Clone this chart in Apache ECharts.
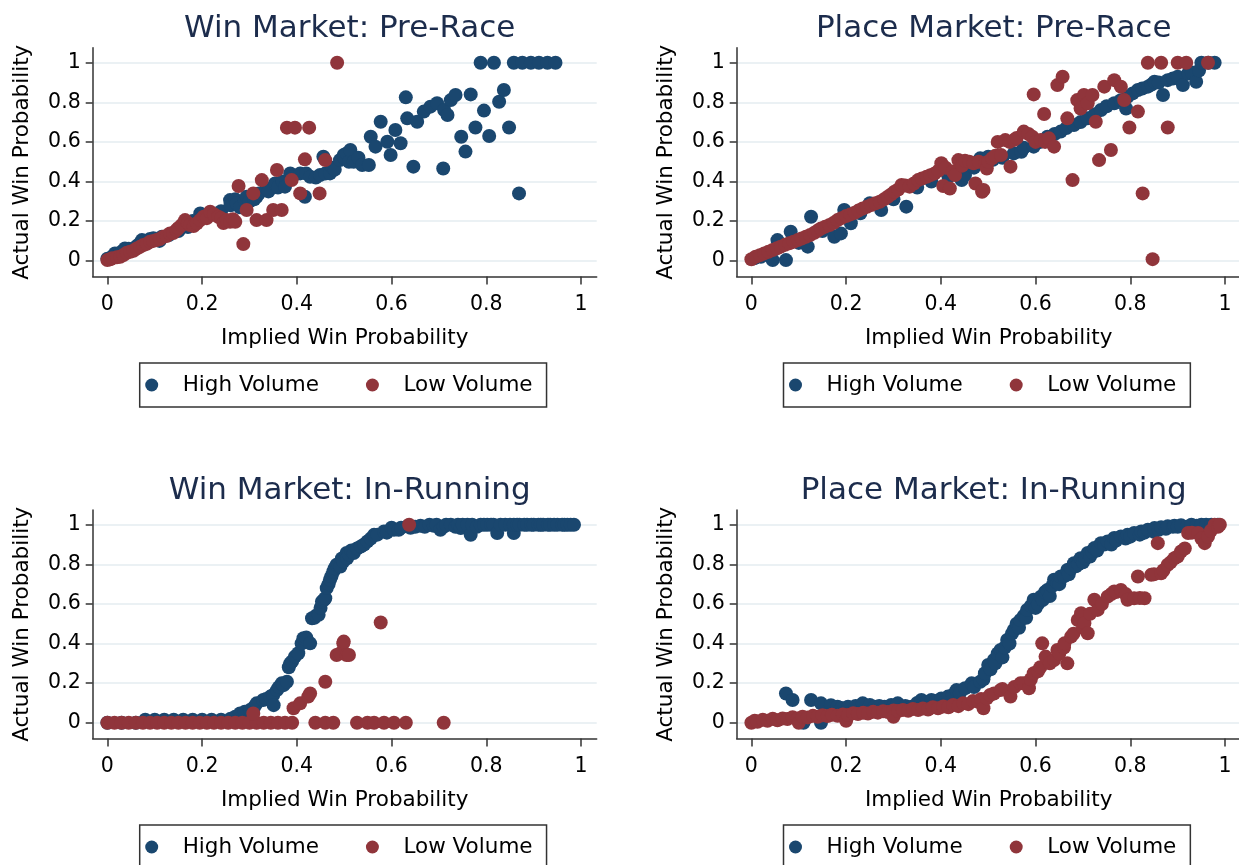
<!DOCTYPE html>
<html>
<head>
<meta charset="utf-8">
<script src="https://cdn.jsdelivr.net/npm/echarts@6/dist/echarts.min.js"></script>
<style>html,body{margin:0;padding:0;background:#fff}#c{width:1239px;height:865px}</style>
</head>
<body>
<div id="c"></div>
<script>
// ---------- DATA ----------
const panelTitles = ['Win Market: Pre-Race', 'Place Market: Pre-Race', 'Win Market: In-Running', 'Place Market: In-Running'];
const seriesNames = ['High Volume', 'Low Volume'];
const xTickValues = [0, 0.2, 0.4, 0.6, 0.8, 1];
const yTickValues = [0, 0.2, 0.4, 0.6, 0.8, 1];
const xAxisTitle = 'Implied Win Probability';
const yAxisTitle = 'Actual Win Probability';

const winPreHigh = [[0.0,0.01],[0.01,0.02],[0.016,0.037],[0.025,0.03],[0.03,0.045],[0.037,0.062],[0.045,0.06],[0.05,0.05],[0.06,0.07],[0.065,0.08],[0.073,0.104],[0.08,0.1],[0.085,0.09],[0.09,0.11],[0.097,0.113],[0.11,0.1],[0.115,0.121],[0.13,0.13],[0.15,0.15],[0.17,0.17],[0.18,0.2],[0.196,0.239],[0.21,0.22],[0.24,0.25],[0.259,0.306],[0.26,0.28],[0.27,0.31],[0.273,0.29],[0.28,0.27],[0.29,0.3],[0.294,0.323],[0.3,0.3],[0.31,0.31],[0.315,0.323],[0.32,0.34],[0.336,0.365],[0.34,0.35],[0.354,0.39],[0.36,0.37],[0.37,0.4],[0.375,0.374],[0.386,0.441],[0.39,0.42],[0.407,0.441],[0.417,0.323],[0.42,0.44],[0.428,0.424],[0.44,0.42],[0.449,0.433],[0.456,0.525],[0.46,0.44],[0.47,0.441],[0.475,0.47],[0.48,0.46],[0.491,0.508],[0.499,0.534],[0.5,0.52],[0.505,0.542],[0.51,0.5],[0.513,0.559],[0.52,0.5],[0.53,0.52],[0.538,0.483],[0.552,0.483],[0.556,0.626],[0.566,0.576],[0.577,0.702],[0.591,0.601],[0.598,0.534],[0.608,0.66],[0.619,0.593],[0.63,0.825],[0.633,0.719],[0.646,0.475],[0.654,0.702],[0.668,0.753],[0.682,0.778],[0.696,0.795],[0.711,0.761],[0.718,0.736],[0.709,0.466],[0.725,0.811],[0.735,0.837],[0.747,0.626],[0.756,0.551],[0.767,0.84],[0.777,0.673],[0.795,0.758],[0.806,0.63],[0.827,0.803],[0.837,0.862],[0.848,0.673],[0.869,0.34],[0.788,1],[0.816,1],[0.858,1],[0.876,1],[0.894,1],[0.911,1],[0.929,1],[0.946,1]];
const winPreLow = [[0,0.003],[0.006,0.007],[0.01,0.012],[0.02,0.017],[0.027,0.02],[0.034,0.029],[0.041,0.04],[0.048,0.045],[0.055,0.05],[0.062,0.062],[0.069,0.07],[0.076,0.079],[0.083,0.085],[0.09,0.096],[0.097,0.1],[0.104,0.104],[0.111,0.11],[0.118,0.121],[0.125,0.125],[0.132,0.138],[0.139,0.14],[0.146,0.155],[0.15,0.165],[0.157,0.18],[0.164,0.205],[0.17,0.19],[0.175,0.18],[0.182,0.175],[0.189,0.189],[0.196,0.205],[0.203,0.222],[0.21,0.215],[0.217,0.247],[0.225,0.235],[0.234,0.222],[0.24,0.215],[0.245,0.19],[0.252,0.205],[0.259,0.197],[0.265,0.21],[0.27,0.197],[0.277,0.377],[0.287,0.084],[0.294,0.256],[0.308,0.34],[0.315,0.205],[0.326,0.407],[0.336,0.205],[0.35,0.256],[0.358,0.458],[0.368,0.256],[0.379,0.672],[0.389,0.407],[0.396,0.672],[0.407,0.34],[0.417,0.512],[0.426,0.672],[0.448,0.34],[0.46,0.508],[0.485,1.0]];

const placePreHigh = [[0.006,0.012],[0.02,0.02],[0.035,0.03],[0.045,0.003],[0.055,0.104],[0.073,0.003],[0.083,0.146],[0.1,0.09],[0.119,0.071],[0.126,0.222],[0.15,0.15],[0.175,0.121],[0.189,0.138],[0.196,0.256],[0.21,0.189],[0.23,0.24],[0.25,0.29],[0.274,0.256],[0.3,0.31],[0.327,0.273],[0.35,0.37],[0.38,0.4],[0.416,0.424],[0.444,0.407],[0.451,0.433],[0.47,0.47],[0.483,0.517],[0.5,0.525],[0.51,0.51],[0.52,0.53],[0.53,0.52],[0.554,0.542],[0.57,0.55],[0.575,0.57],[0.596,0.576],[0.61,0.6],[0.625,0.626],[0.64,0.64],[0.653,0.652],[0.665,0.67],[0.681,0.685],[0.695,0.7],[0.71,0.719],[0.725,0.74],[0.738,0.761],[0.75,0.78],[0.766,0.795],[0.78,0.81],[0.791,0.769],[0.794,0.828],[0.805,0.845],[0.816,0.862],[0.825,0.87],[0.837,0.879],[0.845,0.89],[0.851,0.904],[0.86,0.9],[0.869,0.837],[0.879,0.912],[0.89,0.92],[0.9,0.929],[0.911,0.887],[0.922,0.946],[0.93,0.95],[0.939,0.904],[0.945,0.96],[0.95,1],[0.965,1],[0.978,1]];
const placePreLow = [[0,0.007],[0.009,0.02],[0.018,0.028],[0.027,0.037],[0.036,0.045],[0.045,0.054],[0.054,0.063],[0.062,0.071],[0.071,0.08],[0.08,0.088],[0.089,0.096],[0.098,0.104],[0.106,0.112],[0.115,0.121],[0.124,0.13],[0.133,0.141],[0.14,0.152],[0.147,0.163],[0.156,0.172],[0.165,0.18],[0.174,0.192],[0.182,0.205],[0.19,0.215],[0.2,0.226],[0.209,0.234],[0.218,0.242],[0.226,0.253],[0.235,0.264],[0.244,0.272],[0.253,0.281],[0.262,0.29],[0.271,0.298],[0.28,0.31],[0.288,0.323],[0.295,0.335],[0.302,0.348],[0.31,0.36],[0.317,0.382],[0.325,0.38],[0.334,0.374],[0.343,0.39],[0.352,0.407],[0.36,0.415],[0.37,0.424],[0.378,0.432],[0.387,0.441],[0.395,0.455],[0.401,0.492],[0.405,0.377],[0.41,0.47],[0.419,0.365],[0.425,0.45],[0.43,0.433],[0.437,0.508],[0.445,0.48],[0.451,0.505],[0.46,0.5],[0.469,0.492],[0.473,0.39],[0.48,0.5],[0.487,0.348],[0.49,0.357],[0.494,0.492],[0.497,0.466],[0.5,0.5],[0.508,0.517],[0.515,0.53],[0.52,0.6],[0.527,0.534],[0.536,0.609],[0.545,0.6],[0.547,0.475],[0.554,0.609],[0.56,0.62],[0.575,0.652],[0.585,0.64],[0.593,0.626],[0.596,0.84],[0.6,0.6],[0.611,0.609],[0.618,0.741],[0.62,0.6],[0.628,0.618],[0.639,0.576],[0.646,0.887],[0.657,0.929],[0.667,0.719],[0.678,0.407],[0.688,0.811],[0.695,0.769],[0.702,0.837],[0.71,0.795],[0.72,0.837],[0.727,0.702],[0.734,0.508],[0.745,0.879],[0.759,0.559],[0.766,0.912],[0.78,0.879],[0.787,0.811],[0.798,0.673],[0.816,0.753],[0.826,0.34],[0.837,1],[0.847,0.008],[0.865,1],[0.879,0.673],[0.9,1],[0.918,1],[0.964,1]];

const winRunHigh = [[0,0],[0.03,0],[0.06,0],[0.08,0.015],[0.1,0.015],[0.12,0.015],[0.14,0.015],[0.16,0.015],[0.18,0.015],[0.2,0.015],[0.22,0.015],[0.24,0.015],[0.26,0.02],[0.27,0.03],[0.28,0.047],[0.29,0.055],[0.301,0.064],[0.31,0.08],[0.315,0.098],[0.329,0.115],[0.335,0.12],[0.344,0.132],[0.35,0.14],[0.351,0.089],[0.358,0.165],[0.362,0.18],[0.368,0.199],[0.372,0.19],[0.379,0.207],[0.383,0.28],[0.386,0.3],[0.39,0.31],[0.396,0.334],[0.403,0.351],[0.41,0.4],[0.414,0.427],[0.42,0.43],[0.428,0.401],[0.432,0.528],[0.437,0.53],[0.44,0.54],[0.446,0.545],[0.45,0.58],[0.453,0.612],[0.457,0.62],[0.46,0.629],[0.463,0.68],[0.467,0.7],[0.47,0.722],[0.473,0.74],[0.477,0.764],[0.48,0.78],[0.484,0.798],[0.488,0.8],[0.492,0.789],[0.495,0.83],[0.498,0.814],[0.505,0.857],[0.506,0.831],[0.51,0.85],[0.515,0.87],[0.52,0.857],[0.527,0.88],[0.535,0.89],[0.542,0.9],[0.549,0.916],[0.556,0.93],[0.563,0.949],[0.57,0.95],[0.584,0.966],[0.59,0.96],[0.6,0.985],[0.605,0.975],[0.615,0.975],[0.62,0.985],[0.633,0.992],[0.64,0.985],[0.65,0.99],[0.661,0.995],[0.67,0.99],[0.68,1],[0.689,0.995],[0.695,1],[0.703,0.975],[0.71,0.99],[0.715,1],[0.725,1],[0.735,0.99],[0.74,1],[0.746,0.983],[0.75,1],[0.76,1],[0.767,0.949],[0.77,1],[0.78,0.99],[0.788,1],[0.795,1],[0.802,1],[0.81,1],[0.815,1],[0.823,0.958],[0.83,1],[0.84,1],[0.85,1],[0.858,0.958],[0.858,1],[0.865,1],[0.87,1],[0.88,1],[0.886,1],[0.895,1],[0.9,1],[0.91,1],[0.915,1],[0.92,1],[0.93,1],[0.935,1],[0.943,1],[0.95,1],[0.96,1],[0.965,1],[0.971,1],[0.978,1],[0.985,1]];
const winRunLow = [[0,0],[0.015,0],[0.03,0],[0.045,0],[0.06,0],[0.075,0],[0.09,0],[0.105,0],[0.12,0],[0.135,0],[0.15,0],[0.165,0],[0.18,0],[0.195,0],[0.21,0],[0.225,0],[0.24,0],[0.255,0],[0.27,0],[0.285,0],[0.3,0],[0.315,0],[0.33,0],[0.345,0],[0.36,0],[0.375,0],[0.39,0],[0.308,0.047],[0.393,0.073],[0.407,0.098],[0.424,0.132],[0.428,0.148],[0.46,0.207],[0.484,0.342],[0.492,0.351],[0.498,0.401],[0.499,0.41],[0.505,0.342],[0.51,0.342],[0.577,0.506],[0.637,1.0],[0.439,0],[0.46,0],[0.477,0],[0.527,0],[0.549,0],[0.563,0],[0.584,0],[0.605,0],[0.63,0],[0.71,0]];

const placeRunHigh = [[0.11,0],[0.147,0],[0.073,0.148],[0.087,0.115],[0.126,0.115],[0.147,0.098],[0.168,0.089],[0.182,0.081],[0.19,0.075],[0.204,0.081],[0.22,0.085],[0.235,0.098],[0.25,0.09],[0.26,0.081],[0.27,0.085],[0.281,0.081],[0.295,0.09],[0.3,0.085],[0.309,0.098],[0.325,0.085],[0.338,0.081],[0.35,0.1],[0.359,0.115],[0.37,0.105],[0.38,0.115],[0.39,0.11],[0.401,0.123],[0.415,0.132],[0.425,0.14],[0.433,0.165],[0.44,0.15],[0.451,0.174],[0.465,0.199],[0.47,0.18],[0.483,0.207],[0.49,0.22],[0.493,0.25],[0.5,0.292],[0.505,0.27],[0.512,0.317],[0.515,0.3],[0.52,0.35],[0.526,0.368],[0.53,0.33],[0.535,0.38],[0.54,0.418],[0.545,0.4],[0.55,0.45],[0.554,0.469],[0.56,0.5],[0.565,0.48],[0.568,0.519],[0.575,0.54],[0.58,0.53],[0.582,0.57],[0.59,0.59],[0.596,0.621],[0.6,0.58],[0.605,0.6],[0.611,0.637],[0.615,0.62],[0.62,0.66],[0.625,0.671],[0.63,0.64],[0.635,0.69],[0.639,0.722],[0.646,0.705],[0.65,0.7],[0.653,0.739],[0.66,0.74],[0.667,0.772],[0.67,0.75],[0.675,0.78],[0.681,0.806],[0.685,0.79],[0.69,0.8],[0.695,0.831],[0.7,0.81],[0.705,0.83],[0.71,0.857],[0.715,0.84],[0.72,0.86],[0.724,0.882],[0.73,0.87],[0.738,0.907],[0.745,0.9],[0.752,0.916],[0.76,0.9],[0.766,0.933],[0.77,0.92],[0.78,0.941],[0.79,0.93],[0.794,0.949],[0.8,0.94],[0.808,0.958],[0.82,0.95],[0.823,0.966],[0.83,0.96],[0.837,0.975],[0.85,0.965],[0.851,0.983],[0.86,0.975],[0.865,0.988],[0.875,0.98],[0.879,0.992],[0.89,0.99],[0.893,0.995],[0.9,0.99],[0.907,0.998],[0.92,0.99],[0.929,1],[0.94,0.995],[0.95,1],[0.96,1],[0.971,1],[0.985,1]];
const placeRunLow = [[0,0],[0.007,0.01],[0.013,0.005],[0.024,0.015],[0.034,0.01],[0.045,0.02],[0.055,0.013],[0.066,0.022],[0.076,0.019],[0.087,0.028],[0.098,0.022],[0.1,0.0],[0.108,0.03],[0.119,0.027],[0.13,0.035],[0.14,0.03],[0.15,0.038],[0.161,0.034],[0.17,0.04],[0.182,0.035],[0.193,0.042],[0.2,0.01],[0.204,0.039],[0.215,0.048],[0.225,0.044],[0.236,0.05],[0.246,0.047],[0.257,0.055],[0.267,0.051],[0.278,0.058],[0.288,0.054],[0.3,0.062],[0.3,0.03],[0.31,0.059],[0.32,0.065],[0.331,0.061],[0.341,0.07],[0.352,0.064],[0.362,0.072],[0.373,0.067],[0.383,0.078],[0.394,0.073],[0.405,0.082],[0.416,0.078],[0.426,0.09],[0.437,0.084],[0.447,0.098],[0.458,0.094],[0.468,0.11],[0.479,0.106],[0.485,0.12],[0.49,0.073],[0.497,0.123],[0.504,0.14],[0.512,0.148],[0.526,0.165],[0.53,0.17],[0.547,0.132],[0.555,0.18],[0.568,0.199],[0.575,0.2],[0.586,0.174],[0.59,0.22],[0.596,0.25],[0.605,0.26],[0.61,0.28],[0.614,0.401],[0.621,0.334],[0.63,0.3],[0.639,0.317],[0.646,0.368],[0.65,0.35],[0.66,0.38],[0.661,0.401],[0.667,0.3],[0.675,0.435],[0.68,0.45],[0.689,0.519],[0.696,0.553],[0.7,0.48],[0.703,0.503],[0.71,0.452],[0.715,0.55],[0.724,0.621],[0.731,0.57],[0.74,0.6],[0.752,0.637],[0.76,0.65],[0.766,0.663],[0.77,0.66],[0.78,0.671],[0.79,0.65],[0.794,0.621],[0.808,0.629],[0.82,0.63],[0.83,0.629],[0.816,0.739],[0.844,0.747],[0.85,0.75],[0.865,0.755],[0.858,0.907],[0.87,0.77],[0.879,0.798],[0.885,0.81],[0.893,0.831],[0.9,0.84],[0.907,0.865],[0.915,0.88],[0.922,0.958],[0.93,0.96],[0.943,0.958],[0.95,0.93],[0.957,0.907],[0.964,0.941],[0.97,0.97],[0.978,1.0],[0.985,0.99],[0.989,1.0]];

const panelData = [[winPreHigh, winPreLow], [placePreHigh, placePreLow], [winRunHigh, winRunLow], [placeRunHigh, placeRunLow]];

// ---------- LAYOUT / STYLE ----------
const FONT = 'DejaVu Sans';
const colors = ['#1a476f', '#90353b'];
const gridPos = [
  {left: 92.7, top: 47.85}, {left: 736.7, top: 47.85},
  {left: 92.7, top: 509.9}, {left: 736.7, top: 509.9}
];
const GW = 504, GH = 228.7;
const legendPos = [
  {left: 139.7, top: 363}, {left: 783.5, top: 363},
  {left: 139.7, top: 825}, {left: 783.5, top: 825}
];
const axisCol = '#333';

const option = {
  backgroundColor: '#fff',
  animation: false,
  title: [], grid: [], xAxis: [], yAxis: [], legend: [], series: []
};

for (let i = 0; i < 4; i++) {
  const g = gridPos[i];
  option.grid.push({left: g.left, top: g.top, width: GW, height: GH, outerBoundsMode: 'none', containLabel: false});
  option.title.push({
    text: panelTitles[i], left: g.left + GW / 2, textAlign: 'center', top: g.top - 39,
    textStyle: {fontFamily: FONT, fontSize: 31, fontWeight: 'normal', color: '#1c2c4c'}
  });
  option.xAxis.push({
    gridIndex: i, type: 'value', min: -0.031, max: 1.033,
    name: xAxisTitle, nameLocation: 'middle', nameGap: 51,
    nameTextStyle: {fontFamily: FONT, fontSize: 21.5, color: '#000'},
    axisLine: {show: true, onZero: false, lineStyle: {color: axisCol, width: 1.5}},
    axisTick: {show: true, length: 8, customValues: xTickValues, lineStyle: {color: axisCol, width: 1.5}},
    axisLabel: {show: true, customValues: xTickValues, margin: 18, fontFamily: FONT, fontSize: 20.5, color: '#000'},
    splitLine: {show: false}
  });
  option.yAxis.push({
    gridIndex: i, type: 'value', min: -0.08, max: 1.075,
    name: yAxisTitle, nameLocation: 'middle', nameGap: 59, nameRotate: 90,
    nameTextStyle: {fontFamily: FONT, fontSize: 21.5, color: '#000'},
    axisLine: {show: true, onZero: false, lineStyle: {color: axisCol, width: 1.5}},
    axisTick: {show: true, length: 7, customValues: yTickValues, lineStyle: {color: axisCol, width: 1.5}},
    axisLabel: {show: true, customValues: yTickValues, margin: 12, fontFamily: FONT, fontSize: 20.5, color: '#000'},
    splitLine: {show: true, lineStyle: {color: '#e4edf0', width: 1.5}}
  });
  option.legend.push({
    data: seriesNames.map(n => ({name: n, icon: 'circle'})),
    left: legendPos[i].left, top: legendPos[i].top,
    orient: 'horizontal', itemWidth: 13, itemHeight: 13, itemGap: 47,
    padding: [11, 14, 11, 5.5],
    borderColor: '#333', borderWidth: 1.5, borderRadius: 0, backgroundColor: '#fff',
    selectedMode: false,
    textStyle: {fontFamily: FONT, fontSize: 21.5, color: '#000', padding: [0, 0, 0, 19.5]}
  });
  for (let s = 0; s < 2; s++) {
    option.series.push({
      type: 'scatter', name: seriesNames[s], xAxisIndex: i, yAxisIndex: i,
      data: panelData[i][s], symbol: 'circle', symbolSize: 14,
      itemStyle: {color: colors[s], opacity: 1, borderWidth: 0},
      emphasis: {disabled: true}, z: 2 + s
    });
  }
}

const chart = echarts.init(document.getElementById('c'), null, {renderer: 'canvas'});
chart.setOption(option);
</script>
</body>
</html>
